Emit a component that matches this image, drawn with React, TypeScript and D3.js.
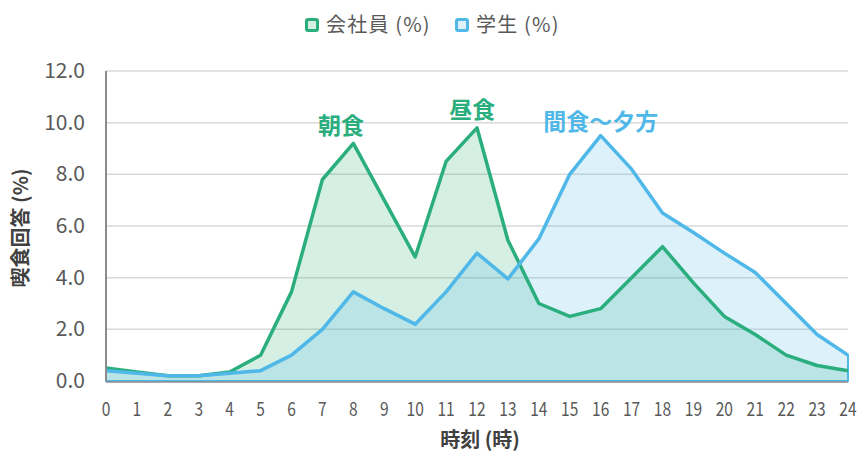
import React, { useEffect, useRef } from 'react';
import * as d3 from 'd3';

const hours = d3.range(0, 25);
const employee = [0.5, 0.35, 0.2, 0.2, 0.35, 1.0, 3.45, 7.8, 9.2, 7.0, 4.8, 8.5, 9.8, 5.45, 3.0, 2.5, 2.8, 4.0, 5.2, 3.8, 2.5, 1.8, 1.0, 0.6, 0.4];
const student = [0.4, 0.3, 0.2, 0.2, 0.3, 0.4, 1.0, 2.0, 3.45, 2.8, 2.2, 3.45, 4.95, 3.95, 5.5, 8.0, 9.5, 8.2, 6.5, 5.75, 4.95, 4.2, 3.0, 1.8, 1.0];
const yTicks = [0, 2, 4, 6, 8, 10, 12];
const seriesNames = ['会社員 (%)', '学生 (%)'];
const annotations = [
  { text: '朝食', hour: 7.6, value: 9.55, series: 0 },
  { text: '昼食', hour: 11.85, value: 10.2, series: 0 },
  { text: '間食～夕方', hour: 16, value: 9.7, series: 1 },
];

const FONT = '"Noto Sans CJK JP", "Noto Sans", sans-serif';
const GREEN = '#2bae7e';
const BLUE = '#4fb8e8';

function App() {
  const svgRef = useRef<SVGSVGElement | null>(null);

  useEffect(() => {
    const svg = d3.select(svgRef.current);
    svg.selectAll('*').remove();

    const width = 857, height = 455;
    const margin = { top: 71, right: 9, bottom: 74, left: 106 };
    const innerW = width - margin.left - margin.right;
    const innerH = height - margin.top - margin.bottom;

    const x = d3.scaleLinear().domain([0, 24]).range([0, innerW]);
    const y = d3.scaleLinear().domain([0, 12]).range([innerH, 0]);

    const g = svg.append('g').attr('transform', `translate(${margin.left},${margin.top})`);

    // gridlines
    g.append('g')
      .selectAll('line')
      .data(yTicks)
      .enter()
      .append('line')
      .attr('x1', 0)
      .attr('x2', innerW)
      .attr('y1', d => y(d))
      .attr('y2', d => y(d))
      .attr('stroke', '#d9d9d9')
      .attr('stroke-width', 1.5);

    const area = d3.area<number>()
      .x((_, i) => x(hours[i]))
      .y0(innerH)
      .y1(d => y(d));
    const line = d3.line<number>()
      .x((_, i) => x(hours[i]))
      .y(d => y(d));

    g.append('path').datum(employee).attr('d', area).attr('fill', GREEN).attr('fill-opacity', 0.2);
    g.append('path').datum(student).attr('d', area).attr('fill', BLUE).attr('fill-opacity', 0.2)
      .attr('stroke', BLUE).attr('stroke-width', 2);
    g.append('path').datum(employee).attr('d', line).attr('fill', 'none').attr('stroke', GREEN)
      .attr('stroke-width', 3.5).attr('stroke-linejoin', 'round');
    g.append('path').datum(student).attr('d', line).attr('fill', 'none').attr('stroke', BLUE)
      .attr('stroke-width', 3.5).attr('stroke-linejoin', 'round');

    // axis lines
    g.append('line').attr('x1', 0).attr('x2', 0).attr('y1', 0).attr('y2', innerH)
      .attr('stroke', '#8c8c8c').attr('stroke-width', 2);
    g.append('line').attr('x1', 0).attr('x2', innerW).attr('y1', innerH + 1).attr('y2', innerH + 1)
      .attr('stroke', '#8c8c8c').attr('stroke-width', 1.5);

    // y tick labels
    g.append('g')
      .selectAll('text')
      .data(yTicks)
      .enter()
      .append('text')
      .attr('x', -21)
      .attr('y', d => y(d))
      .attr('dy', '0.33em')
      .attr('text-anchor', 'end')
      .attr('font-family', FONT)
      .attr('font-size', 21)
      .attr('fill', '#595959')
      .text(d => d.toFixed(1));

    // x tick labels (narrow face like the original)
    g.append('g')
      .selectAll('text')
      .data(hours)
      .enter()
      .append('text')
      .attr('transform', d => `translate(${x(d)},${innerH + 35}) scale(0.82,1)`)
      .attr('text-anchor', 'middle')
      .attr('font-family', FONT)
      .attr('font-size', 19)
      .attr('fill', '#595959')
      .text(d => String(d));

    // axis titles
    svg.append('text')
      .attr('x', 480)
      .attr('y', 447)
      .attr('text-anchor', 'middle')
      .attr('font-family', FONT)
      .attr('font-size', 20)
      .attr('font-weight', 'bold')
      .attr('fill', '#404040')
      .text('時刻 (時)');
    svg.append('text')
      .attr('transform', 'translate(28,228) rotate(-90)')
      .attr('text-anchor', 'middle')
      .attr('font-family', FONT)
      .attr('font-size', 20)
      .attr('font-weight', 'bold')
      .attr('fill', '#404040')
      .text('喫食回答 (%)');

    // annotations
    g.append('g')
      .selectAll('text')
      .data(annotations)
      .enter()
      .append('text')
      .attr('x', d => x(d.hour))
      .attr('y', d => y(d.value))
      .attr('text-anchor', 'middle')
      .attr('font-family', FONT)
      .attr('font-size', 23)
      .attr('font-weight', 'bold')
      .attr('fill', d => (d.series === 0 ? GREEN : BLUE))
      .text(d => d.text);

    // legend
    const legendX = [305, 455];
    const colors = [GREEN, BLUE];
    const lg = svg.append('g');
    seriesNames.forEach((name, i) => {
      lg.append('rect')
        .attr('x', legendX[i] + 1.5)
        .attr('y', 19.5)
        .attr('width', 11)
        .attr('height', 11)
        .attr('rx', 1.5)
        .attr('fill', d3.interpolateRgb('#ffffff', colors[i])(0.2))
        .attr('stroke', colors[i])
        .attr('stroke-width', 3);
      lg.append('text')
        .attr('x', legendX[i] + 21)
        .attr('y', 32)
        .attr('font-family', FONT)
        .attr('font-size', 20)
        .attr('letter-spacing', 1.2)
        .attr('fill', '#595959')
        .text(name);
    });
  }, []);

  return <svg ref={svgRef} width={857} height={455} style={{ display: 'block', position: 'absolute', left: 0, top: 0 }} />;
}

export default App;
